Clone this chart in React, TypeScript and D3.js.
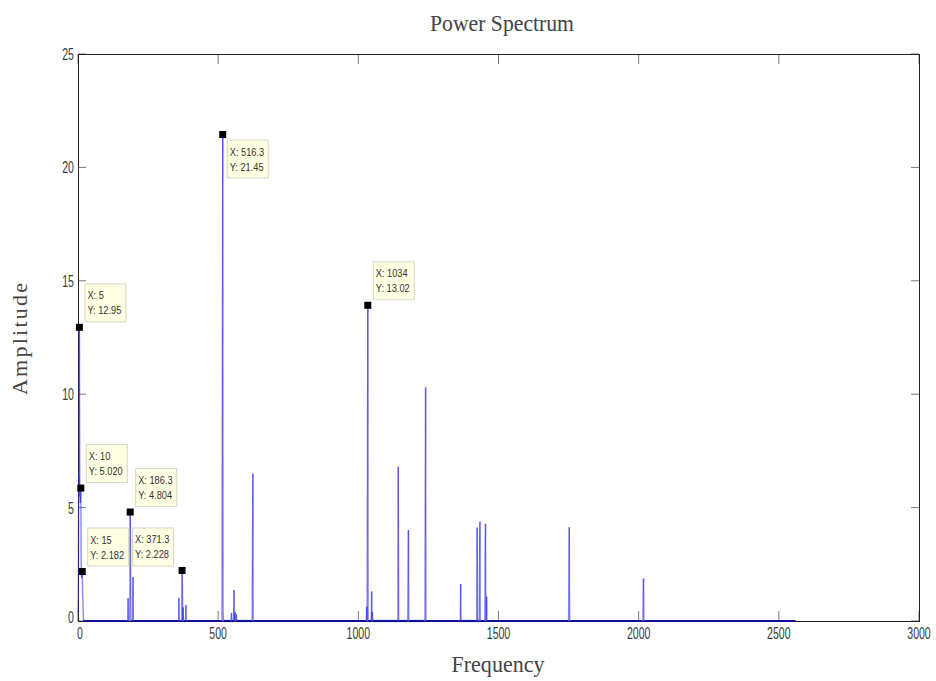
import React from 'react';
import * as d3 from 'd3';

// Spectrum bins (Hz, amplitude); bins not listed are zero
const specFreq = [
  0, 1.25, 2.5, 3.75, 5, 6.25, 7.5, 8.75, 10, 11.25, 12.5, 13.75, 15, 16.25, 17.5, 18.75,
  178.75, 185, 186.25, 187.5, 196.25,
  360, 371.25, 372.5, 375, 385,
  515, 516.25, 517.5,
  547.5, 556.25, 560, 565,
  622.5, 623.75,
  1030, 1032.5, 1033.75, 1047.5, 1050,
  1142.5,
  1177.5, 1178.75,
  1238.75, 1240,
  1365,
  1423.75, 1432.5, 1433.75,
  1452.5, 1453.75, 1457.5,
  1751.25, 1752.5,
  2016.25, 2017.5,
  2560,
];
const specAmp = [
  0.4, 1.5, 6.4, 5.5, 12.95, 6.2, 5.5, 5.2, 5.86, 2.6, 2.0, 1.9, 2.182, 1.3, 0.9, 0.3,
  1.0, 0.8, 4.804, 2.55, 1.94,
  1.0, 2.228, 1.5, 0.6, 0.7,
  11.46, 21.45, 0.4,
  0.35, 1.37, 0.4, 0.3,
  3.5, 6.5,
  0.63, 7.2, 13.92, 1.3, 0.4,
  6.8,
  2.0, 4.01,
  5.64, 10.3,
  1.63,
  4.12, 2.73, 4.38,
  3.23, 4.29, 1.07,
  2.1, 4.13,
  1.5, 1.87,
  0,
];

const xTicks = [0, 500, 1000, 1500, 2000, 2500, 3000];
const yTicks = [0, 5, 10, 15, 20, 25];

// Data tips
const tipFreq = [5, 10, 15, 186.25, 371.25, 516.25, 1033.75];
const tipXLabel = ['5', '10', '15', '186.3', '371.3', '516.3', '1034'];
const tipYLabel = ['12.95', '5.020', '2.182', '4.804', '2.228', '21.45', '13.02'];
const tipPlace = ['above-right', 'above-right', 'above-right', 'above-right', 'above-left', 'below-right', 'above-right'];

const W = 936;
const H = 681;
const M = { left: 78, right: 919, top: 54, bottom: 621 };

export default function App() {
  const x = d3.scaleLinear().domain([0, 3000]).range([M.left, M.right]);
  const y = d3.scaleLinear().domain([0, 25]).range([M.bottom, M.top]);

  const bins: [number, number][] = specFreq.map((f, i) => [f, specAmp[i]]);
  const step = 1.25;
  const pts: [number, number][] = [];
  bins.forEach(([f, a], i) => {
    if (i > 0 && f - bins[i - 1][0] > step + 0.01) pts.push([f - step, 0]);
    pts.push([f, a]);
    if (i < bins.length - 1 && bins[i + 1][0] - f > step + 0.01) pts.push([f + step, 0]);
  });

  const segs = d3.pairs(pts);
  const ampAt = (f: number) => {
    const b = bins.find((d) => Math.abs(d[0] - f) < 0.01);
    return b ? b[1] : 0;
  };

  const axisColor = '#222';
  const tickColor = '#777';
  const labelColor = '#3a3a3a';
  const boxW = 41;
  const boxH = 38;
  const serif = 'Liberation Serif, DejaVu Serif, serif';

  return (
    <svg width={W} height={H} style={{ position: 'absolute', left: 0, top: 0, background: '#fff' }}>
      <rect x={0} y={0} width={W} height={H} fill="#fff" />
      {/* ticks */}
      {xTicks.map((t) => (
        <g key={'xt' + t}>
          <line x1={x(t)} x2={x(t)} y1={M.bottom} y2={M.bottom - 10} stroke={tickColor} strokeWidth={1} />
          <line x1={x(t)} x2={x(t)} y1={M.top} y2={M.top + 10} stroke={tickColor} strokeWidth={1} />
          <text
            transform={`translate(${x(t) + (t === 0 ? 2 : 0)},${M.bottom + 18}) scale(0.66,1)`}
            textAnchor="middle"
            fontFamily="Liberation Sans, Arial, sans-serif"
            fontSize={16}
            fill={labelColor}
          >
            {t}
          </text>
        </g>
      ))}
      {yTicks.map((t) => (
        <g key={'yt' + t}>
          <line x1={M.left} x2={M.left + 8} y1={y(t)} y2={y(t)} stroke={tickColor} strokeWidth={1} />
          <line x1={M.right} x2={M.right - 8} y1={y(t)} y2={y(t)} stroke={tickColor} strokeWidth={1} />
          <text
            transform={`translate(${M.left - 4},${y(t) + 6 - (t === 0 ? 4 : 0)}) scale(0.66,1)`}
            textAnchor="end"
            fontFamily="Liberation Sans, Arial, sans-serif"
            fontSize={16}
            fill={labelColor}
          >
            {t}
          </text>
        </g>
      ))}
      {/* axes box */}
      <rect
        x={M.left + 0.5}
        y={M.top + 0.5}
        width={M.right - M.left}
        height={M.bottom - M.top}
        fill="none"
        stroke={axisColor}
        strokeWidth={1}
      />
      {/* spectrum */}
      <g>
        {segs.map(([a, b], i) => {
          const flat = a[1] === 0 && b[1] === 0;
          return (
            <line
              key={'s' + i}
              x1={x(a[0])}
              y1={y(a[1])}
              x2={x(b[0])}
              y2={y(b[1])}
              stroke={flat ? '#10109a' : '#2a2ae8'}
              strokeOpacity={flat ? 1 : 0.55}
              strokeWidth={flat ? 2.2 : 1.4}
            />
          );
        })}
      </g>
      {/* data tips */}
      {tipFreq.map((f, i) => {
        const mx = x(f);
        const my = y(ampAt(f));
        const place = tipPlace[i];
        let bx = mx + 5;
        let by = my - 6 - boxH;
        if (place === 'above-left') {
          bx = mx - 9 - boxW;
          by = my - 5 - boxH;
        } else if (place === 'below-right') {
          bx = mx + 4;
          by = my + 5;
        }
        return (
          <g key={'tip' + i}>
            <rect x={bx + 0.5} y={by + 0.5} width={boxW} height={boxH} fill="#ffffe4" stroke="#d6d6c4" strokeWidth={1} />
            <text
              transform={`translate(${bx + 3},${by + 16}) scale(0.88,1)`}
              fontFamily="Liberation Sans, Arial, sans-serif"
              fontSize={10.5}
              fill="#333"
            >
              {'X: ' + tipXLabel[i]}
            </text>
            <text
              transform={`translate(${bx + 3},${by + 31}) scale(0.88,1)`}
              fontFamily="Liberation Sans, Arial, sans-serif"
              fontSize={10.5}
              fill="#333"
            >
              {'Y: ' + tipYLabel[i]}
            </text>
            <rect x={mx - 3.5} y={my - 3.5} width={7} height={7} fill="#000" />
          </g>
        );
      })}
      {/* titles */}
      <text
        x={502}
        y={31}
        textAnchor="middle"
        fontFamily={serif}
        fontSize={23}
        textLength={144}
        lengthAdjust="spacingAndGlyphs"
        fill="#444"
      >
        Power Spectrum
      </text>
      <text
        x={498}
        y={672}
        textAnchor="middle"
        fontFamily={serif}
        fontSize={24}
        textLength={93}
        lengthAdjust="spacingAndGlyphs"
        fill="#444"
      >
        Frequency
      </text>
      <text
        transform="translate(27,339) rotate(-90)"
        textAnchor="middle"
        fontFamily={serif}
        fontSize={22}
        textLength={112}
        lengthAdjust="spacing"
        fill="#444"
      >
        Amplitude
      </text>
    </svg>
  );
}
